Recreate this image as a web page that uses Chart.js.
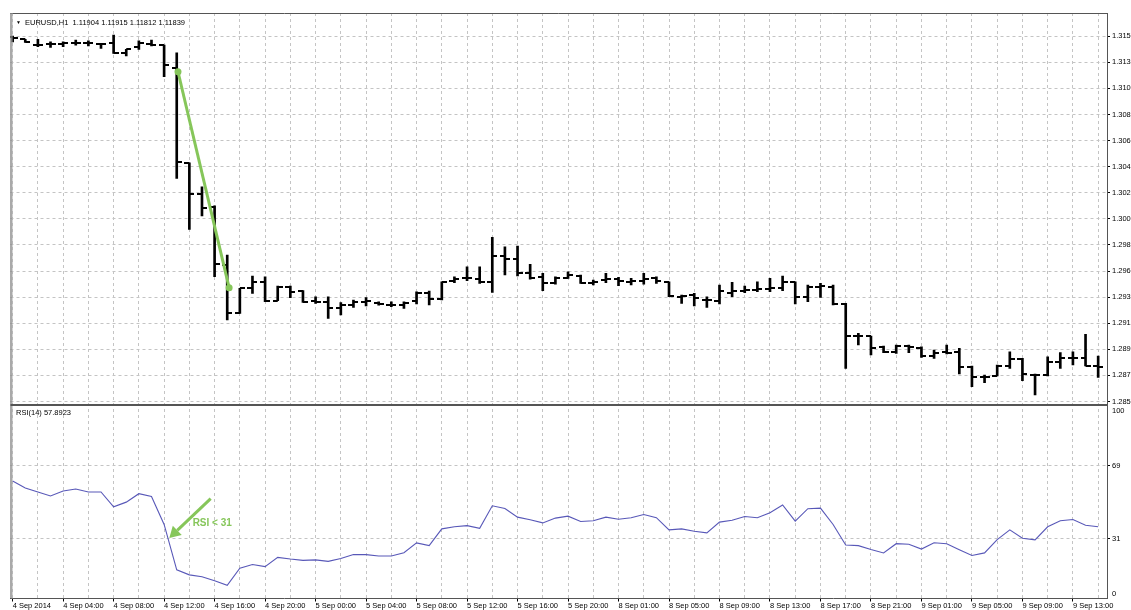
<!DOCTYPE html>
<html>
<head>
<meta charset="utf-8">
<title>EURUSD H1 - RSI(14)</title>
<script src="https://cdn.jsdelivr.net/npm/chart.js@4/dist/chart.umd.min.js"></script>
<style>
  html, body { margin: 0; padding: 0; background: #fff; }
  #wrap { width: 1131px; height: 610px; }
</style>
</head>
<body>
<div id="wrap"><canvas id="chart" width="1131" height="610"></canvas></div>
<script>
// DATA (one value per hourly bar, 4 Sep 00:00 .. 9 Sep 15:00)
const timeLabels = ['4 Sep 2014', '4 Sep 04:00', '4 Sep 08:00', '4 Sep 12:00', '4 Sep 16:00', '4 Sep 20:00',
  '5 Sep 00:00', '5 Sep 04:00', '5 Sep 08:00', '5 Sep 12:00', '5 Sep 16:00', '5 Sep 20:00',
  '8 Sep 01:00', '8 Sep 05:00', '8 Sep 09:00', '8 Sep 13:00', '8 Sep 17:00', '8 Sep 21:00',
  '9 Sep 01:00', '9 Sep 05:00', '9 Sep 09:00', '9 Sep 13:00'];

const barOpen = [1.31519, 1.31500, 1.31456, 1.31459, 1.31459, 1.31472, 1.31467, 1.31461, 1.31467, 1.31390,
  1.31434, 1.31459, 1.31453, 1.31267, 1.30488, 1.30231, 1.30127, 1.29649, 1.29253, 1.29463,
  1.29507, 1.29357, 1.29471, 1.29436, 1.29354, 1.29348, 1.29299, 1.29319, 1.29348, 1.29340,
  1.29319, 1.29321, 1.29354, 1.29422, 1.29370, 1.29518, 1.29540, 1.29534, 1.29512, 1.29723,
  1.29696, 1.29581, 1.29548, 1.29504, 1.29540, 1.29562, 1.29504, 1.29526, 1.29534, 1.29512,
  1.29520, 1.29540, 1.29512, 1.29389, 1.29403, 1.29362, 1.29354, 1.29422, 1.29436, 1.29444,
  1.29450, 1.29458, 1.29512, 1.29389, 1.29471, 1.29471, 1.29329, 1.29067, 1.29067, 1.28979,
  1.28938, 1.28985, 1.28971, 1.28903, 1.28938, 1.28938, 1.28810, 1.28728, 1.28742, 1.28821,
  1.28878, 1.28747, 1.28747, 1.28856, 1.28884, 1.28884, 1.28821];
const barHigh = [1.31527, 1.31500, 1.31500, 1.31480, 1.31480, 1.31494, 1.31488, 1.31467, 1.31535, 1.31418,
  1.31488, 1.31494, 1.31453, 1.31390, 1.30488, 1.30291, 1.30135, 1.29731, 1.29458, 1.29559,
  1.29553, 1.29477, 1.29477, 1.29439, 1.29389, 1.29389, 1.29340, 1.29362, 1.29381, 1.29348,
  1.29348, 1.29348, 1.29430, 1.29436, 1.29512, 1.29553, 1.29635, 1.29635, 1.29876, 1.29799,
  1.29805, 1.29655, 1.29581, 1.29553, 1.29594, 1.29567, 1.29526, 1.29581, 1.29548, 1.29540,
  1.29581, 1.29553, 1.29512, 1.29403, 1.29417, 1.29389, 1.29485, 1.29507, 1.29477, 1.29512,
  1.29540, 1.29559, 1.29512, 1.29485, 1.29499, 1.29485, 1.29335, 1.29089, 1.29067, 1.28985,
  1.28993, 1.28993, 1.28979, 1.28952, 1.28993, 1.28966, 1.28821, 1.28747, 1.28829, 1.28938,
  1.28884, 1.28755, 1.28897, 1.28930, 1.28938, 1.29081, 1.28903];
const barLow = [1.31478, 1.31475, 1.31439, 1.31434, 1.31439, 1.31453, 1.31447, 1.31426, 1.31385, 1.31363,
  1.31418, 1.31447, 1.31193, 1.30360, 1.29942, 1.30051, 1.29553, 1.29198, 1.29253, 1.29417,
  1.29348, 1.29357, 1.29381, 1.29343, 1.29335, 1.29212, 1.29239, 1.29302, 1.29313, 1.29319,
  1.29307, 1.29294, 1.29329, 1.29321, 1.29362, 1.29504, 1.29520, 1.29499, 1.29425, 1.29567,
  1.29559, 1.29532, 1.29439, 1.29493, 1.29540, 1.29499, 1.29485, 1.29504, 1.29480, 1.29485,
  1.29493, 1.29499, 1.29389, 1.29335, 1.29313, 1.29302, 1.29329, 1.29389, 1.29422, 1.29430,
  1.29430, 1.29439, 1.29329, 1.29348, 1.29384, 1.29321, 1.28802, 1.28993, 1.28911, 1.28930,
  1.28925, 1.28930, 1.28892, 1.28884, 1.28919, 1.28755, 1.28651, 1.28684, 1.28739, 1.28802,
  1.28701, 1.28583, 1.28739, 1.28802, 1.28829, 1.28821, 1.28728];
const barClose = [1.31507, 1.31475, 1.31456, 1.31459, 1.31467, 1.31472, 1.31467, 1.31461, 1.31390, 1.31418,
  1.31467, 1.31453, 1.31289, 1.30491, 1.30231, 1.30114, 1.29655, 1.29253, 1.29458, 1.29512,
  1.29357, 1.29471, 1.29430, 1.29348, 1.29346, 1.29299, 1.29319, 1.29348, 1.29350, 1.29327,
  1.29321, 1.29335, 1.29422, 1.29370, 1.29512, 1.29532, 1.29545, 1.29512, 1.29723, 1.29696,
  1.29581, 1.29545, 1.29499, 1.29540, 1.29567, 1.29504, 1.29506, 1.29532, 1.29518, 1.29514,
  1.29534, 1.29520, 1.29395, 1.29395, 1.29376, 1.29364, 1.29439, 1.29436, 1.29444, 1.29450,
  1.29458, 1.29512, 1.29389, 1.29471, 1.29473, 1.29331, 1.29067, 1.29069, 1.28966, 1.28938,
  1.28985, 1.28979, 1.28903, 1.28930, 1.28930, 1.28815, 1.28728, 1.28733, 1.28821, 1.28878,
  1.28755, 1.28749, 1.28856, 1.28884, 1.28889, 1.28821, 1.28815];

const rsiValues = [61.1, 57.5, 55.4, 53.3, 55.9, 56.9, 55.4, 55.4, 47.7, 50.1,
  54.5, 53.0, 38.5, 14.9, 12.3, 11.3, 9.2, 6.9, 15.8, 17.7,
  16.6, 21.4, 20.5, 19.8, 20.1, 19.3, 20.8, 22.9, 22.8, 22.1,
  22.1, 23.8, 28.9, 27.5, 36.2, 37.3, 37.9, 36.5, 48.2, 46.8,
  42.3, 40.9, 39.3, 41.8, 42.8, 40.0, 40.4, 42.3, 41.2, 42.0,
  43.7, 42.0, 35.7, 36.2, 35.0, 34.1, 39.7, 40.7, 42.6, 42.0,
  44.6, 48.6, 40.2, 46.7, 47.0, 38.5, 27.8, 27.5, 25.5, 23.7,
  28.5, 28.2, 25.7, 29.0, 28.5, 25.4, 22.4, 23.7, 30.6, 35.7,
  31.3, 30.5, 37.3, 40.4, 41.1, 38.1, 37.3];

const priceTicks = [1.28530, 1.28744, 1.28958, 1.29172, 1.29386, 1.29600, 1.29814, 1.30028,
  1.30242, 1.30456, 1.30670, 1.30884, 1.31098, 1.31312, 1.31526];
const priceTickLabels = ['1.285', '1.287', '1.289', '1.291', '1.293', '1.296', '1.298', '1.300',
  '1.302', '1.304', '1.306', '1.308', '1.310', '1.313', '1.315'];
// 0 and 100 sit on the pane edges, their labels are nudged inside like the terminal does
const rsiTicks = [2.4, 31, 69, 97.4];
const rsiTickLabels = ['0', '31', '69', '100'];
const rsiLevels = [31, 69];

// drawn trend line and the arrow note (bar index / value)
const trendFrom = { bar: 13.1, price: 1.31234 };
const trendTo = { bar: 17.15, price: 1.29463 };
const arrowFrom = { bar: 15.69, rsi: 51.9 };
const arrowTo = { bar: 12.41, rsi: 31.5 };
const arrowNote = { bar: 14.26, rsi: 39, text: 'RSI < 31' };

const headerText = 'EURUSD,H1  1.11904 1.11915 1.11812 1.11839';
const rsiText = 'RSI(14) 57.8923';

const FONT = '"Liberation Sans", Arial, sans-serif';
const GRID = '#c4c4c4';
const FRAME = '#555';
const GREEN = '#86c65a';

// open tick on the left, close tick on the right of the bar
function makeTick(side) {
  const c = document.createElement('canvas');
  c.width = 10;
  c.height = 2;
  const cx = c.getContext('2d');
  cx.fillStyle = '#000';
  cx.fillRect(side === 'left' ? 0 : 5, 0, 5, 2);
  return c;
}

const toPoints = arr => arr.map((v, i) => ({ x: i, y: v }));

// frame, titles and the arrow note
const overlay = {
  id: 'overlay',
  afterDraw(chart) {
    const { ctx, chartArea } = chart;
    const x = chart.scales.x;
    const py = chart.scales.y;
    const ry = chart.scales.rsi;

    ctx.save();
    ctx.strokeStyle = FRAME;
    ctx.lineWidth = 1;
    ctx.beginPath();
    ctx.moveTo(chartArea.left + 0.5, chartArea.top);
    ctx.lineTo(chartArea.left + 0.5, chartArea.bottom);
    ctx.moveTo(chartArea.left, chartArea.top + 0.5);
    ctx.lineTo(chartArea.right, chartArea.top + 0.5);
    ctx.stroke();
    ctx.strokeStyle = '#a8a8a8';
    ctx.beginPath();
    ctx.moveTo(chartArea.left + 1.5, chartArea.top);
    ctx.lineTo(chartArea.left + 1.5, chartArea.bottom);
    ctx.stroke();

    // panel separator
    ctx.fillStyle = FRAME;
    ctx.fillRect(chartArea.left, py.bottom - 1, chartArea.right - chartArea.left, 2);

    // titles
    ctx.fillStyle = '#000';
    ctx.textBaseline = 'middle';
    ctx.font = '5px ' + FONT;
    ctx.fillText('\u25BC', 16, 22.5);
    ctx.font = '7.5px ' + FONT;
    ctx.fillText(headerText, 25, 22.5);
    ctx.fillText(rsiText, 16, ry.top + 8);

    // arrow
    const x1 = x.getPixelForValue(arrowFrom.bar), y1 = ry.getPixelForValue(arrowFrom.rsi);
    const x2 = x.getPixelForValue(arrowTo.bar), y2 = ry.getPixelForValue(arrowTo.rsi);
    const ang = Math.atan2(y2 - y1, x2 - x1);
    const head = 11, half = 6.5;
    const bx = x2 - head * Math.cos(ang), by = y2 - head * Math.sin(ang);
    ctx.strokeStyle = GREEN;
    ctx.fillStyle = GREEN;
    ctx.lineWidth = 3;
    ctx.beginPath();
    ctx.moveTo(x1, y1);
    ctx.lineTo(bx, by);
    ctx.stroke();
    ctx.beginPath();
    ctx.moveTo(x2, y2);
    ctx.lineTo(bx + half * Math.sin(ang), by - half * Math.cos(ang));
    ctx.lineTo(bx - half * Math.sin(ang), by + half * Math.cos(ang));
    ctx.closePath();
    ctx.fill();

    ctx.font = 'bold 10px ' + FONT;
    ctx.textAlign = 'left';
    ctx.fillText(arrowNote.text, x.getPixelForValue(arrowNote.bar), ry.getPixelForValue(arrowNote.rsi));
    ctx.restore();
  }
};

const ctx = document.getElementById('chart').getContext('2d');
new Chart(ctx, {
  data: {
    datasets: [
      {
        type: 'line',
        label: 'Trend',
        data: [{ x: trendFrom.bar, y: trendFrom.price }, { x: trendTo.bar, y: trendTo.price }],
        yAxisID: 'y',
        borderColor: GREEN,
        backgroundColor: GREEN,
        borderWidth: 3,
        pointRadius: 3.5,
        pointBorderWidth: 0,
        order: 0
      },
      {
        type: 'bar',
        label: 'High-Low',
        data: barHigh.map((h, i) => ({ x: i, y: [barLow[i], h] })),
        yAxisID: 'y',
        backgroundColor: '#000',
        borderWidth: 0,
        barThickness: 2,
        grouped: false,
        order: 2
      },
      {
        type: 'line',
        label: 'Open',
        data: toPoints(barOpen),
        yAxisID: 'y',
        showLine: false,
        pointStyle: makeTick('left'),
        pointRadius: 3,
        order: 1
      },
      {
        type: 'line',
        label: 'Close',
        data: toPoints(barClose),
        yAxisID: 'y',
        showLine: false,
        pointStyle: makeTick('right'),
        pointRadius: 3,
        order: 1
      },
      {
        type: 'line',
        label: 'RSI(14)',
        data: toPoints(rsiValues),
        yAxisID: 'rsi',
        borderColor: '#5858b8',
        borderWidth: 1.1,
        pointRadius: 0,
        tension: 0,
        order: 1
      }
    ]
  },
  options: {
    responsive: false,
    animation: false,
    events: [],
    layout: { padding: { top: 13, left: 10.5, right: 0, bottom: 0 } },
    plugins: {
      legend: { display: false },
      tooltip: { enabled: false }
    },
    scales: {
      x: {
        type: 'linear',
        offset: false,
        min: -0.17,
        max: 86.7,
        afterBuildTicks: scale => {
          const ticks = [];
          for (let i = 0; i <= 86; i += 2) ticks.push({ value: i });
          scale.ticks = ticks;
        },
        afterFit: scale => { scale.height = 11.5; },
        ticks: {
          autoSkip: false,
          maxRotation: 0,
          minRotation: 0,
          align: 'start',
          padding: 0,
          color: '#000',
          font: { family: FONT, size: 7.5 },
          callback: value => (value % 4 === 0 ? timeLabels[value / 4] : '')
        },
        grid: {
          offset: false,
          color: GRID,
          tickLength: 3,
          tickColor: c => (c.tick && c.tick.value % 4 === 0 ? '#000' : 'rgba(0,0,0,0)')
        },
        border: { color: FRAME, dash: [3, 3] }
      },
      y: {
        type: 'linear',
        position: 'right',
        stack: 'panes',
        stackWeight: 392,
        min: 1.28501,
        max: 1.31716,
        bounds: 'data',
        afterBuildTicks: scale => { scale.ticks = priceTicks.map(v => ({ value: v })); },
        afterFit: scale => { scale.width = 24; },
        ticks: {
          padding: 2,
          color: '#000',
          font: { family: FONT, size: 7.5 },
          callback: (value, index) => priceTickLabels[index]
        },
        grid: { color: GRID, tickLength: 3, tickColor: '#000' },
        border: { color: FRAME, dash: [3, 3] }
      },
      rsi: {
        type: 'linear',
        position: 'right',
        stack: 'panes',
        stackWeight: 193.5,
        min: 0,
        max: 100.6,
        bounds: 'data',
        afterBuildTicks: scale => { scale.ticks = rsiTicks.map(v => ({ value: v })); },
        afterFit: scale => { scale.width = 24; },
        ticks: {
          padding: 2,
          color: '#000',
          font: { family: FONT, size: 7.5 },
          callback: (value, index) => rsiTickLabels[index]
        },
        grid: {
          color: c => (c.tick && rsiLevels.includes(c.tick.value) ? GRID : 'rgba(0,0,0,0)'),
          tickLength: 3,
          tickColor: c => (c.tick && rsiLevels.includes(c.tick.value) ? '#000' : 'rgba(0,0,0,0)')
        },
        border: { color: FRAME, dash: [3, 3] }
      }
    }
  },
  plugins: [overlay]
});
</script>
</body>
</html>
